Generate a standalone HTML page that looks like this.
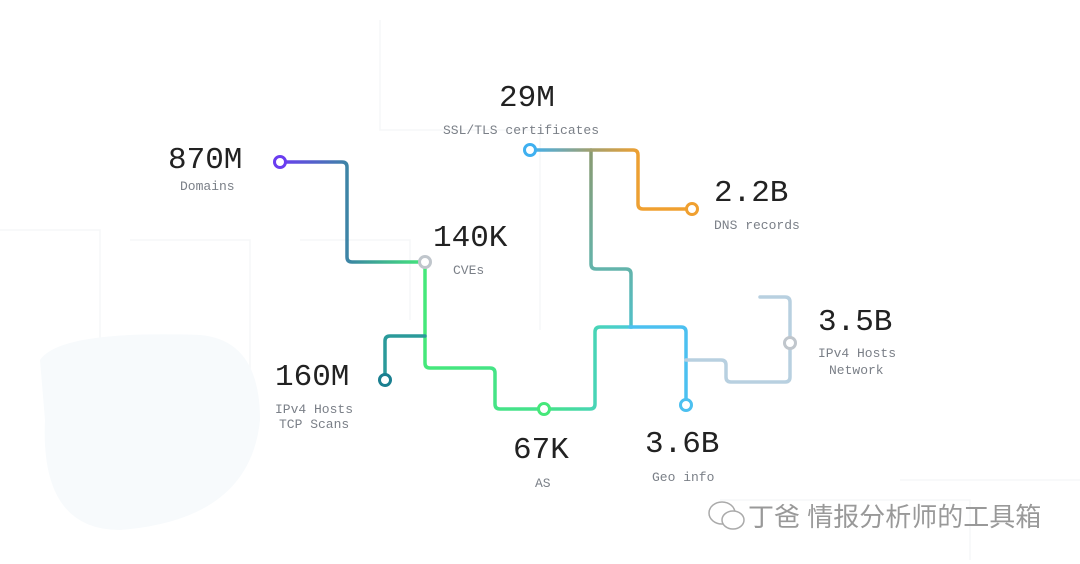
<!DOCTYPE html>
<html><head><meta charset="utf-8"><style>
html,body{margin:0;padding:0;background:#fff;width:1080px;height:564px;overflow:hidden}
svg{display:block}
.big{font-family:"Liberation Mono",monospace;font-size:31px;fill:#222}
.lbl{font-family:"Liberation Mono",monospace;font-size:13px;fill:#7a7f87}
.wm{font-family:"Liberation Sans","Noto Sans CJK SC",sans-serif;font-size:26px;fill:#999}
</style></head><body>
<svg width="1080" height="564" viewBox="0 0 1080 564">
<defs>
<linearGradient id="gDom" x1="280" y1="0" x2="425" y2="0" gradientUnits="userSpaceOnUse"><stop offset="0" stop-color="#6a3df0"/><stop offset="0.5" stop-color="#3a8aa0"/><stop offset="1" stop-color="#45e87a"/></linearGradient>
<linearGradient id="gCve" x1="425" y1="0" x2="640" y2="0" gradientUnits="userSpaceOnUse"><stop offset="0" stop-color="#45e87a"/><stop offset="0.6" stop-color="#45e090"/><stop offset="1" stop-color="#4cc8e0"/></linearGradient>
<linearGradient id="gSsl" x1="530" y1="0" x2="640" y2="0" gradientUnits="userSpaceOnUse"><stop offset="0" stop-color="#3fb0f0"/><stop offset="0.55" stop-color="#a0a070"/><stop offset="1" stop-color="#f0a030"/></linearGradient>
<linearGradient id="gBr" x1="0" y1="150" x2="0" y2="327" gradientUnits="userSpaceOnUse"><stop offset="0" stop-color="#8a9a70"/><stop offset="1" stop-color="#50c0c8"/></linearGradient>
</defs>
<g fill="none" stroke="#f6f7f8" stroke-width="1.5">
<path d="M0 230 H100 V420 M130 240 H250 V430 M300 240 H410 V320 M380 20 V130 H540 V330 M720 500 H970 V560 M900 480 H1080"/>
<path d="M40 360 Q60 330 200 335 Q260 340 260 420 Q250 520 120 530 Q40 530 45 420 Z" fill="#f7fafc" stroke="none"/>
</g>
<g fill="none" stroke-width="3.5" stroke-linejoin="round" stroke-linecap="round">
<path d="M280 162 H342 Q347 162 347 167 V257 Q347 262 352 262 H425" stroke="url(#gDom)"/>
<path d="M425 262 V363 Q425 368 430 368 H490 Q495 368 495 373 V404 Q495 409 500 409 H590 Q595 409 595 404 V332 Q595 327 600 327 H632" stroke="url(#gCve)"/>
<path d="M385 380 V341 Q385 336 390 336 H425" stroke="#2a9a9a"/>
<path d="M591 150 V264 Q591 269 596 269 H626 Q631 269 631 274 V327" stroke="url(#gBr)"/>
<path d="M530 150 H633 Q638 150 638 155 V204 Q638 209 643 209 H692" stroke="url(#gSsl)"/>
<path d="M630 327 H681 Q686 327 686 332 V405" stroke="#4cc0f0"/>
<path d="M686 360 H721 Q726 360 726 365 V377 Q726 382 731 382 H785 Q790 382 790 377 V302 Q790 297 785 297 H760" stroke="#b8d0e0"/>
</g>
<g fill="#fff" stroke-width="3">
<circle cx="280" cy="162" r="5.5" stroke="#6a3df0"/>
<circle cx="425" cy="262" r="5.5" stroke="#c0c6cc"/>
<circle cx="385" cy="380" r="5.5" stroke="#1a7f90"/>
<circle cx="544" cy="409" r="5.5" stroke="#45e87a"/>
<circle cx="530" cy="150" r="5.5" stroke="#3fb0f0"/>
<circle cx="692" cy="209" r="5.5" stroke="#f0a030"/>
<circle cx="686" cy="405" r="5.5" stroke="#4cc0f0"/>
<circle cx="790" cy="343" r="5.5" stroke="#c0c6cc"/>
</g>
<text class="big" x="168" y="168">870M</text>
<text class="lbl" x="180" y="190">Domains</text>
<text class="big" x="433" y="246">140K</text>
<text class="lbl" x="453" y="274">CVEs</text>
<text class="big" x="275" y="385">160M</text>
<text class="lbl" x="275" y="413">IPv4 Hosts</text>
<text class="lbl" x="279" y="428">TCP Scans</text>
<text class="big" x="513" y="458">67K</text>
<text class="lbl" x="535" y="487">AS</text>
<text class="big" x="499" y="106">29M</text>
<text class="lbl" x="443" y="134">SSL/TLS certificates</text>
<text class="big" x="714" y="201">2.2B</text>
<text class="lbl" x="714" y="229">DNS records</text>
<text class="big" x="645" y="452">3.6B</text>
<text class="lbl" x="652" y="481">Geo info</text>
<text class="big" x="818" y="330">3.5B</text>
<text class="lbl" x="818" y="357">IPv4 Hosts</text>
<text class="lbl" x="829" y="374">Network</text>
<g>
<ellipse cx="722" cy="513" rx="13" ry="11" fill="none" stroke="#aaa" stroke-width="1.5"/>
<ellipse cx="733" cy="520" rx="11" ry="9" fill="#fff" stroke="#aaa" stroke-width="1.5"/>
<text class="wm" x="748" y="526">丁爸 情报分析师的工具箱</text>
</g>
</svg>
</body></html>
